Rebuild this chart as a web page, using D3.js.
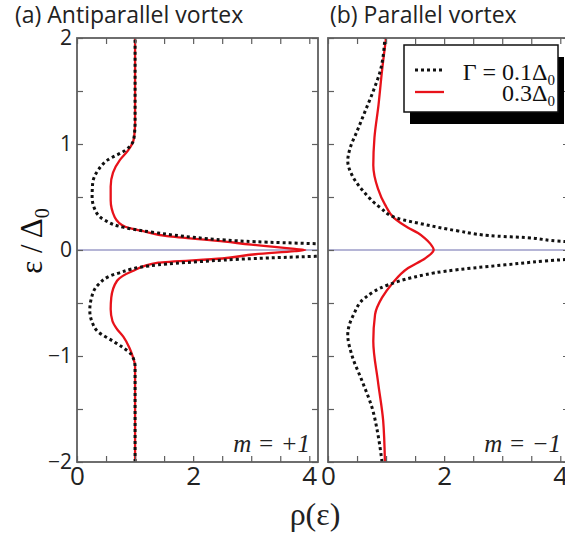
<!DOCTYPE html>
<html>
<head>
<meta charset="utf-8">
<script src="https://cdn.jsdelivr.net/npm/d3@7"></script>
<style>
  body { margin: 0; background: #fff; }
  svg { display: block; }
</style>
</head>
<body>
<svg id="chart"></svg>
<script>
// (a) antiparallel vortex, m = +1
const antiEps01 = [-2, -1.5, -1.2, -1.1, -0.99, -0.92, -0.86, -0.77, -0.68, -0.57, -0.45, -0.33, -0.22, -0.14, -0.11, -0.08, -0.06, -0.04, 0,
                   0.04, 0.06, 0.078, 0.094, 0.12, 0.16, 0.21, 0.28, 0.38, 0.5, 0.63, 0.75, 0.85, 0.94, 1.03, 1.1, 1.2, 1.5, 2];
const antiRho01 = [1.0, 1.0, 1.0, 1.0, 0.94, 0.79, 0.62, 0.36, 0.26, 0.22, 0.25, 0.36, 0.7, 1.4, 2.1, 3.07, 4.1, 5.5, 9,
                   5.5, 4.1, 3.07, 2.55, 2.0, 1.4, 0.83, 0.48, 0.31, 0.26, 0.27, 0.36, 0.53, 0.83, 0.97, 0.99, 1.0, 1.0, 1.0];
const antiEps03 = [-2, -1.5, -1.2, -1.1, -0.99, -0.92, -0.82, -0.74, -0.67, -0.56, -0.45, -0.29, -0.2, -0.12, -0.08, -0.04, -0.01, 0,
                   0.01, 0.03, 0.05, 0.08, 0.13, 0.18, 0.22, 0.31, 0.47, 0.6, 0.73, 0.85, 0.94, 1.03, 1.1, 1.2, 1.5, 2];
const antiRho03 = [1.0, 1.0, 1.0, 1.0, 0.95, 0.9, 0.8, 0.68, 0.61, 0.58, 0.59, 0.69, 0.95, 1.4, 2.5, 3.07, 3.75, 3.93,
                   3.75, 3.4, 3.0, 2.55, 1.55, 1.12, 0.83, 0.65, 0.58, 0.58, 0.62, 0.74, 0.88, 0.97, 0.99, 1.0, 1.0, 1.0];

// (b) parallel vortex, m = -1
const paraEps01 = [-2, -1.74, -1.49, -1.24, -0.99, -0.8, -0.61, -0.45, -0.33, -0.26, -0.2, -0.14, -0.09, -0.05, 0,
                   0.05, 0.08, 0.12, 0.13, 0.18, 0.24, 0.3, 0.4, 0.56, 0.71, 0.84, 0.96, 1.12, 1.31, 1.5, 1.69, 2];
const paraRho01 = [0.93, 0.86, 0.76, 0.59, 0.41, 0.34, 0.44, 0.64, 1.03, 1.45, 2.02, 3.05, 4.09, 5.5, 8,
                   5.5, 4.09, 3.31, 2.93, 2.24, 1.67, 1.19, 0.9, 0.6, 0.41, 0.34, 0.38, 0.5, 0.64, 0.78, 0.9, 0.98];
const paraEps03 = [-2, -1.61, -1.24, -0.86, -0.61, -0.45, -0.32, -0.17, -0.08, -0.02, 0,
                   0.06, 0.11, 0.16, 0.21, 0.3, 0.43, 0.58, 0.8, 1.06, 1.37, 1.69, 2];
const paraRho03 = [0.98, 0.95, 0.86, 0.78, 0.81, 0.93, 1.1, 1.38, 1.67, 1.8, 1.82,
                   1.76, 1.67, 1.55, 1.38, 1.14, 0.98, 0.86, 0.78, 0.8, 0.87, 0.93, 1.0];

const xTicks = d3.range(0, 4.01, 0.5);
const yTicks = d3.range(-2, 2.01, 0.5);
const xLabels = [0, 2, 4];
const yLabels = [-2, -1, 0, 1, 2];

const width = 565;
const height = 537;
const marginTop = 38;
const marginBottom = 75;
const panelW = 241;
const panels = [
  { left: 77, titleX: 15, title: "(a) Antiparallel vortex", m: "m = +1", d01: [antiEps01, antiRho01], d03: [antiEps03, antiRho03], yAxis: true },
  { left: 328, titleX: 330, title: "(b) Parallel vortex", m: "m = \u22121", d01: [paraEps01, paraRho01], d03: [paraEps03, paraRho03], yAxis: false }
];

const svg = d3.select("#chart")
  .attr("width", width)
  .attr("height", height)
  .attr("viewBox", [0, 0, width, height]);

const y = d3.scaleLinear([-2, 2], [height - marginBottom, marginTop]);
const frameColor = "#5f5f5f";
const sans = "'Open Sans', 'Noto Sans', sans-serif";
const serif = "'Liberation Serif', 'DejaVu Serif', serif";

const toPts = ([eps, rho]) => eps.map((e, i) => ({ e, r: rho[i] }));
const minus = d => String(d).replace("-", "\u2212");

panels.forEach((p, k) => {
  const x = d3.scaleLinear([0, 4.15], [p.left, p.left + panelW]);
  const g = svg.append("g");

  g.append("clipPath").attr("id", "clip" + k)
    .append("rect")
    .attr("x", x(0)).attr("y", y(2))
    .attr("width", panelW).attr("height", y(-2) - y(2));

  // title
  g.append("text")
    .attr("x", p.titleX)
    .attr("y", 23)
    .style("font-family", sans)
    .style("font-size", "23px")
    .attr("fill", "#222")
    .text(p.title);

  // zero line
  g.append("line")
    .attr("x1", x(0)).attr("x2", x(4.15))
    .attr("y1", y(0)).attr("y2", y(0))
    .attr("stroke", "#9c9cc8").attr("stroke-width", 1.5);

  const line = d3.line()
    .x(d => x(d.r))
    .y(d => y(d.e))
    .curve(d3.curveMonotoneY);

  const curves = g.append("g").attr("clip-path", `url(#clip${k})`);
  curves.append("path")
    .datum(toPts(p.d03))
    .attr("d", line)
    .attr("fill", "none")
    .attr("stroke", "#e8121a")
    .attr("stroke-width", 2.3);
  curves.append("path")
    .datum(toPts(p.d01))
    .attr("d", line)
    .attr("fill", "none")
    .attr("stroke", "#111")
    .attr("stroke-width", 3)
    .attr("stroke-dasharray", "3,3");

  // inward ticks on all sides
  const bottom = g.append("g")
    .attr("transform", `translate(0,${y(-2)})`)
    .call(d3.axisBottom(x).tickValues(xTicks).tickSize(-6).tickSizeOuter(0).tickPadding(5)
      .tickFormat(d => xLabels.includes(d) ? d : ""));
  bottom.selectAll(".tick text")
    .style("font-family", sans).style("font-size", "26px").attr("fill", "#222");

  g.append("g")
    .attr("transform", `translate(0,${y(2)})`)
    .call(d3.axisTop(x).tickValues(xTicks).tickSize(-6).tickSizeOuter(0).tickFormat(""));

  const left = g.append("g")
    .attr("transform", `translate(${x(0)},0)`)
    .call(d3.axisLeft(y).tickValues(yTicks).tickSize(-6).tickSizeOuter(0).tickPadding(5)
      .tickFormat(d => p.yAxis && yLabels.includes(d) ? minus(d) : ""));
  left.selectAll(".tick text")
    .style("font-family", sans).style("font-size", "21px").attr("fill", "#222");

  g.append("g")
    .attr("transform", `translate(${x(4.15)},0)`)
    .call(d3.axisRight(y).tickValues(yTicks).tickSize(-6).tickSizeOuter(0).tickFormat(""));

  g.selectAll(".domain").remove();
  g.selectAll(".tick line").attr("stroke", frameColor).attr("stroke-width", 1.2);

  g.append("rect")
    .attr("x", x(0)).attr("y", y(2))
    .attr("width", panelW).attr("height", y(-2) - y(2))
    .attr("fill", "none")
    .attr("stroke", frameColor)
    .attr("stroke-width", 1.8);

  // m label
  g.append("text")
    .attr("x", x(4.15) - 8)
    .attr("y", y(-2) - 10)
    .attr("text-anchor", "end")
    .style("font-family", serif)
    .style("font-style", "italic")
    .style("font-size", "25px")
    .attr("fill", "#222")
    .text(p.m);

  if (k === 1) {
    // legend
    const lg = g.append("g");
    lg.append("rect").attr("x", 410).attr("y", 57).attr("width", 154).attr("height", 67).attr("fill", "#000");
    lg.append("rect").attr("x", 404).attr("y", 45).attr("width", 154).attr("height", 67)
      .attr("fill", "#fff").attr("stroke", "#111").attr("stroke-width", 1.5);
    lg.append("line").attr("x1", 415).attr("x2", 444).attr("y1", 70).attr("y2", 70)
      .attr("stroke", "#111").attr("stroke-width", 3).attr("stroke-dasharray", "3,3");
    lg.append("line").attr("x1", 415).attr("x2", 444).attr("y1", 92).attr("y2", 92)
      .attr("stroke", "#e8121a").attr("stroke-width", 2.3);
    const t1 = lg.append("text").attr("x", 555).attr("y", 80).attr("text-anchor", "end")
      .style("font-family", serif).style("font-size", "24px").attr("fill", "#111");
    t1.append("tspan").text("\u0393 = 0.1\u0394");
    t1.append("tspan").attr("dy", 5).style("font-size", "15px").text("0");
    const t2 = lg.append("text").attr("x", 555).attr("y", 101).attr("text-anchor", "end")
      .style("font-family", serif).style("font-size", "24px").attr("fill", "#111");
    t2.append("tspan").text("0.3\u0394");
    t2.append("tspan").attr("dy", 5).style("font-size", "15px").text("0");
  }
});

// axis titles
const yl = svg.append("text")
  .attr("transform", `translate(42,${y(0) - 9}) rotate(-90)`)
  .attr("text-anchor", "middle")
  .style("font-family", serif)
  .style("font-size", "31px")
  .attr("fill", "#111");
yl.append("tspan").text("\u03b5 / \u0394");
yl.append("tspan").attr("dy", 7).style("font-size", "20px").text("0");

svg.append("text")
  .attr("x", 315)
  .attr("y", 525)
  .attr("text-anchor", "middle")
  .style("font-family", serif)
  .style("font-size", "32px")
  .attr("fill", "#222")
  .text("\u03c1(\u03b5)");
</script>
</body>
</html>
